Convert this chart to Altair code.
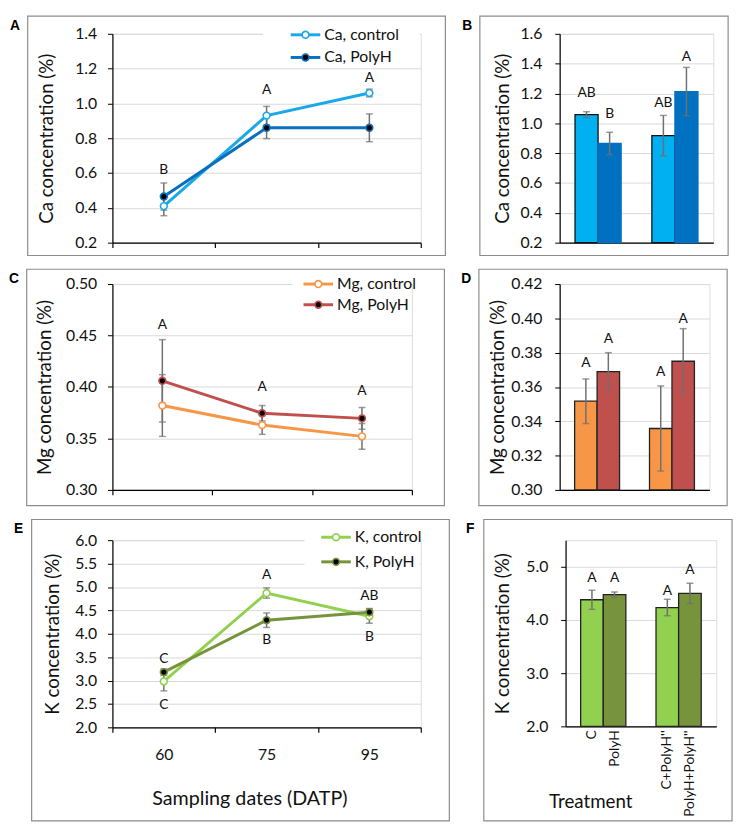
import altair as alt
import pandas as pd

FONT = "Lato"
LETTER_FONT = "Liberation Sans"
ERR_COLOR = "#707070"
GRID = "#d9d9d9"
FRAME = "#8c8c8c"
TXT = "#111111"

# ---------------- data ----------------
dates = ["60", "75", "95"]

ca_control = [0.41, 0.93, 1.06]
ca_control_err = [0.055, 0.053, 0.022]
ca_polyh = [0.465, 0.86, 0.86]
ca_polyh_err = [0.078, 0.062, 0.08]
ca_letters = ["B", "A", "A"]
ca_letters_x = ["60", "75", "95"]
ca_letters_y = [0.615, 1.075, 1.145]

mg_control = [0.382, 0.363, 0.352]
mg_control_err = [0.030, 0.009, 0.0125]
mg_polyh = [0.406, 0.3745, 0.3695]
mg_polyh_err = [0.040, 0.0075, 0.0105]
mg_letters = ["A", "A", "A"]
mg_letters_x = ["60", "75", "95"]
mg_letters_y = [0.460, 0.400, 0.396]

k_control = [2.98, 4.87, 4.375]
k_control_err = [0.20, 0.11, 0.15]
k_polyh = [3.18, 4.29, 4.46]
k_polyh_err = [0.07, 0.155, 0.08]
k_letters = ["C", "A", "AB", "C", "B", "B"]
k_letters_x = ["60", "75", "95", "60", "75", "95"]
k_letters_y = [3.47, 5.26, 4.81, 2.48, 3.87, 3.94]

treatments = ["C", "PolyH", "C+PolyH''", "PolyH+PolyH''"]
treat_group = ["g1", "g1", "g2", "g2"]
treat_kind = ["control", "PolyH", "control", "PolyH"]

ca_bar = [1.058, 0.865, 0.918, 1.213]
ca_bar_err = [0.02, 0.075, 0.135, 0.162]
ca_bar_letters = ["AB", "B", "AB", "A"]
ca_bar_letters_y = [1.20, 1.062, 1.137, 1.445]

mg_bar = [0.3517, 0.369, 0.3358, 0.375]
mg_bar_err = [0.013, 0.011, 0.0248, 0.019]
mg_bar_letters = ["A", "A", "A", "A"]
mg_bar_letters_y = [0.3737, 0.3881, 0.3685, 0.3998]

k_bar = [4.38, 4.476, 4.234, 4.50]
k_bar_err = [0.18, 0.05, 0.155, 0.19]
k_bar_letters = ["A", "A", "A", "A"]
k_bar_letters_y = [4.79, 4.79, 4.546, 4.93]


def one():
    return alt.Chart(pd.DataFrame({"k": [0]}))


def frame_layers(w, h, ins, letter):
    L, R, T, B = ins
    rect = one().mark_rect(fillOpacity=0, stroke=FRAME, strokeWidth=1.2).encode(
        x=alt.value(-L), x2=alt.value(w + R), y=alt.value(-T), y2=alt.value(h + B)
    )
    lab = one().mark_text(
        text=letter, font=LETTER_FONT, fontWeight="bold", fontSize=14,
        align="left", baseline="middle", color="black"
    ).encode(x=alt.value(-L - 18), y=alt.value(-T + 10))
    return [rect, lab]


def legend_layers(names, colors, w, cx, y0, dy, bg_left, bg_top, bg_bottom):
    layers = [one().mark_rect(fill="white", strokeWidth=0).encode(
        x=alt.value(bg_left), x2=alt.value(w - 1), y=alt.value(bg_top), y2=alt.value(bg_bottom))]
    fills = ["white", "black"]
    for i, (nm, col) in enumerate(zip(names, colors)):
        yy = y0 + i * dy
        layers.append(one().mark_rule(color=col, strokeWidth=3).encode(
            x=alt.value(cx - 15), x2=alt.value(cx + 15), y=alt.value(yy)))
        layers.append(one().mark_point(shape="circle", size=48, filled=True, fill=fills[i],
                                       stroke=col, strokeWidth=1.6, opacity=1).encode(
            x=alt.value(cx), y=alt.value(yy)))
        layers.append(one().mark_text(text=nm, font=FONT, fontSize=16, color=TXT,
                                      align="left", baseline="middle").encode(
            x=alt.value(cx + 19), y=alt.value(yy)))
    return layers


def y_scale(dom):
    return alt.Scale(domain=dom, nice=False, zero=False)


def y_axis(vals, fmt, title, title_x, lpad):
    return alt.Axis(
        values=vals, format=fmt, title=title, titleX=title_x, titleBaseline="middle",
        titleFont=FONT, titleFontSize=19, titleFontWeight="normal", titleColor=TXT,
        labelFont=FONT, labelFontSize=16, labelColor=TXT, labelPadding=lpad,
        labelOverlap=False, labelFlush=False,
        domainColor="black", domainWidth=1.2, tickColor="black", tickSize=5,
        gridColor=GRID, gridWidth=1,
    )


def line_panel(elem, ctrl, ctrl_err, poly, poly_err, lx, lt, ly, colors,
               dom, vals, fmt, w, h, ins, letter, leg,
               show_x, title_x, xtitle_x):
    names = [f"{elem}, control", f"{elem}, PolyH"]
    sfield = f"series_{elem}"
    rows = []
    for name, vs, es in ((names[0], ctrl, ctrl_err), (names[1], poly, poly_err)):
        for d, v, e in zip(dates, vs, es):
            rows.append({"date": d, sfield: name, "value": v, "lo": v - e, "hi": v + e})
    df = pd.DataFrame(rows)
    ldf = pd.DataFrame({"date": lx, "t": lt, "ly": ly})

    xax = alt.Axis(
        title="Sampling dates (DATP)" if show_x else None,
        labels=show_x, labelAngle=0, labelFont=FONT, labelFontSize=16, labelColor=TXT,
        labelPadding=15, titleFont=FONT, titleFontSize=20, titleFontWeight="normal",
        titleColor=TXT, titlePadding=26, titleX=xtitle_x,
        tickBand="extent", ticks=True, tickSize=5, tickColor="black", tickWidth=1.2,
        domainColor="black", domainWidth=1.2, grid=False,
    )
    xscale = alt.Scale(type="band", domain=dates, paddingInner=0, paddingOuter=0)
    x = alt.X("date:N", sort=dates, scale=xscale, axis=xax)
    ys = y_scale(dom)
    yax = y_axis(vals, fmt, f"{elem} concentration (%)", title_x, 11)
    y = alt.Y("value:Q", scale=ys, axis=yax)
    sscale = alt.Scale(domain=names, range=colors)
    fscale = alt.Scale(domain=names, range=["white", "black"])
    base = alt.Chart(df)
    line = base.mark_line(strokeWidth=3).encode(
        x=x, y=y, stroke=alt.Stroke(f"{sfield}:N", scale=sscale, legend=None)
    )
    rule = base.mark_rule(color=ERR_COLOR, strokeWidth=1.5).encode(
        x=x, y=alt.Y("lo:Q", scale=ys, axis=yax), y2="hi:Q"
    )
    cap_lo = base.mark_tick(color=ERR_COLOR, thickness=1.5, size=7, orient="horizontal").encode(
        x=x, y=alt.Y("lo:Q", scale=ys, axis=yax))
    cap_hi = base.mark_tick(color=ERR_COLOR, thickness=1.5, size=7, orient="horizontal").encode(
        x=x, y=alt.Y("hi:Q", scale=ys, axis=yax))
    pts = base.mark_point(shape="circle", size=48, strokeWidth=1.6, opacity=1).encode(
        x=x, y=y,
        stroke=alt.Stroke(f"{sfield}:N", scale=sscale, legend=None),
        fill=alt.Fill(f"{sfield}:N", scale=fscale, legend=None),
    )
    txt = alt.Chart(ldf).mark_text(font=FONT, fontSize=14, color=TXT, baseline="middle").encode(
        x=x, y=alt.Y("ly:Q", scale=ys, axis=yax), text="t:N"
    )
    fr = frame_layers(w, h, ins, letter)
    lg = legend_layers(names, colors, w, *leg)
    return alt.layer(fr[0], line, rule, cap_lo, cap_hi, pts, txt, *lg, fr[1]).properties(
        width=w, height=h)


def bar_panel(elem, vals_, errs, lets, lets_y, colors, strokes,
              dom, vals, fmt, w, h, ins, letter, show_labels, title_x):
    kfield = f"kind_{elem}"
    df = pd.DataFrame({
        "treat": treatments, "group": treat_group, kfield: treat_kind,
        "value": vals_, "lo": [v - e for v, e in zip(vals_, errs)],
        "hi": [v + e for v, e in zip(vals_, errs)], "t": lets, "ly": lets_y,
    })
    xax = alt.Axis(
        title="Treatment" if show_labels else None, labels=False, ticks=False,
        domainColor="black", domainWidth=1.2, grid=False,
        titleFont=FONT, titleFontSize=19, titleFontWeight="normal", titleColor=TXT,
        titlePadding=67, titleX=25,
    )
    xscale = alt.Scale(type="band", paddingInner=0.4, paddingOuter=0.2)
    x = alt.X("group:N", scale=xscale, axis=xax)
    xo = alt.XOffset(f"{kfield}:N", sort=["control", "PolyH"],
                     scale=alt.Scale(domain=["control", "PolyH"], paddingInner=0, paddingOuter=0))
    ys = y_scale(dom)
    yax = y_axis(vals, fmt, f"{elem} concentration (%)", title_x, 13)
    y = alt.Y("value:Q", scale=ys, axis=yax)
    base = alt.Chart(df)
    bars = base.mark_bar(strokeWidth=1.3).encode(
        x=x, xOffset=xo, y=y, y2=alt.datum(dom[0]),
        color=alt.Color(f"{kfield}:N", scale=alt.Scale(domain=["control", "PolyH"], range=colors), legend=None),
        stroke=alt.Stroke(f"{kfield}:N", scale=alt.Scale(domain=["control", "PolyH"], range=strokes), legend=None),
    )
    rule = base.mark_rule(color=ERR_COLOR, strokeWidth=1.5).encode(
        x=x, xOffset=xo, y=alt.Y("lo:Q", scale=ys, axis=yax), y2="hi:Q")
    cap_lo = base.mark_tick(color=ERR_COLOR, thickness=1.5, size=7, orient="horizontal").encode(
        x=x, xOffset=xo, y=alt.Y("lo:Q", scale=ys, axis=yax))
    cap_hi = base.mark_tick(color=ERR_COLOR, thickness=1.5, size=7, orient="horizontal").encode(
        x=x, xOffset=xo, y=alt.Y("hi:Q", scale=ys, axis=yax))
    txt = base.mark_text(font=FONT, fontSize=14, color=TXT, baseline="middle").encode(
        x=x, xOffset=xo, y=alt.Y("ly:Q", scale=ys, axis=yax), text="t:N")
    layers = [bars, rule, cap_lo, cap_hi, txt]
    if show_labels:
        layers.append(base.mark_text(font=FONT, fontSize=14, color=TXT, angle=270,
                                     align="right", baseline="middle").encode(
            x=x, xOffset=xo, y=alt.value(h + 4), text="treat:N"))
    fr = frame_layers(w, h, ins, letter)
    return alt.layer(fr[0], *layers, fr[1]).properties(width=w, height=h)


# legend tuple: (symbol centre x, first row y, row step, bg left, bg top, bg bottom)
panel_a = line_panel(
    "Ca", ca_control, ca_control_err, ca_polyh, ca_polyh_err,
    ca_letters_x, ca_letters, ca_letters_y, ["#1aa9e8", "#0a6fbd"],
    [0.2, 1.4], [0.2, 0.4, 0.6, 0.8, 1.0, 1.2, 1.4], ".1f",
    313, 212, (86, 25, 18, 13), "A", (196, 1, 23, 153, -12, 34), False, -67, 150)
panel_b = bar_panel(
    "Ca", ca_bar, ca_bar_err, ca_bar_letters, ca_bar_letters_y,
    ["#00b0f0", "#0070c0"], ["#111111", "#0070c0"],
    [0.2, 1.6], [0.2, 0.4, 0.6, 0.8, 1.0, 1.2, 1.4, 1.6], ".1f",
    156, 212, (81, 15, 18, 13), "B", False, -58)
panel_c = line_panel(
    "Mg", mg_control, mg_control_err, mg_polyh, mg_polyh_err,
    mg_letters_x, mg_letters, mg_letters_y, ["#f79646", "#c0504d"],
    [0.30, 0.50], [0.30, 0.35, 0.40, 0.45, 0.50], ".2f",
    304, 209, (87, 33, 15, 16), "C", (209, 0, 21, 183, -12, 32), False, -69, 150)
panel_d = bar_panel(
    "Mg", mg_bar, mg_bar_err, mg_bar_letters, mg_bar_letters_y,
    ["#f79646", "#c0504d"], ["#222222", "#222222"],
    [0.30, 0.42], [0.30, 0.32, 0.34, 0.36, 0.38, 0.40, 0.42], ".2f",
    152, 209, (82, 18, 15, 16), "D", False, -63)
panel_e = line_panel(
    "K", k_control, k_control_err, k_polyh, k_polyh_err,
    k_letters_x, k_letters, k_letters_y, ["#92d050", "#77933c"],
    [2.0, 6.0], [2.0, 2.5, 3.0, 3.5, 4.0, 4.5, 5.0, 5.5, 6.0], ".1f",
    313, 190, (82, 29, 21, 95), "E", (227, -3, 25, 195, -15, 34), True, -61, 139)
panel_f = bar_panel(
    "K", k_bar, k_bar_err, k_bar_letters, k_bar_letters_y,
    ["#92d050", "#77933c"], ["#222222", "#222222"],
    [2.0, 5.5], [2.0, 3.0, 4.0, 5.0], ".1f",
    153, 189, (83, 16, 21, 96), "F", True, -64)

IND = dict(color="independent", stroke="independent", fill="independent",
           x="independent", y="independent", xOffset="independent")


def hrow(a, b):
    return alt.hconcat(a, b, spacing=14).resolve_scale(**IND)


chart = alt.vconcat(
    hrow(panel_a, panel_b), hrow(panel_c, panel_d), hrow(panel_e, panel_f), spacing=10
).resolve_scale(**IND).properties(
    padding={"left": 0, "top": 0, "right": 2, "bottom": 2}
).configure_view(stroke=None).configure(background="white")

chart.save("out.html", embed_options={"renderer": "svg", "actions": False})
